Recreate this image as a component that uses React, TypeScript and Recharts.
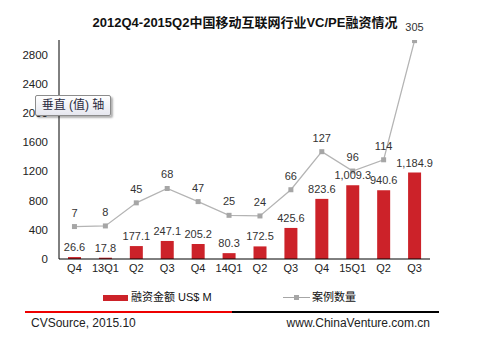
import { ComposedChart, Bar, Line, XAxis, YAxis, LabelList } from 'recharts';

// 2012Q4-2015Q3 中国移动互联网 VC/PE 融资
const quarters = ['Q4', '13Q1', 'Q2', 'Q3', 'Q4', '14Q1', 'Q2', 'Q3', 'Q4', '15Q1', 'Q2', 'Q3'];
const amounts = [26.6, 17.8, 177.1, 247.1, 205.2, 80.3, 172.5, 425.6, 823.6, 1009.3, 940.6, 1184.9];
const deals = [7, 8, 45, 68, 47, 25, 24, 66, 127, 96, 114, 305];
const amountTicks = [0, 400, 800, 1200, 1600, 2000, 2400, 2800];

const data = quarters.map((q, i) => ({ q, amount: amounts[i], deals: deals[i] }));

const FONT = "Arial, 'Liberation Sans', 'Noto Sans CJK SC', sans-serif";
const RED = '#cc2229';
const GREY = '#a6a6a6';

const fmtAmount = (v: any) =>
  Number(v).toLocaleString('en-US', { minimumFractionDigits: 1, maximumFractionDigits: 1 });

const SquareDot = (props: any) => {
  const { cx, cy } = props;
  if (cx == null || cy == null) return null;
  return <rect x={cx - 2.5} y={cy - 2.5} width={5} height={5} fill={GREY} />;
};

export default function App() {
  return (
    <div
      style={{
        position: 'fixed',
        left: 0,
        top: 0,
        width: 478,
        height: 355,
        background: '#fff',
        fontFamily: FONT,
      }}
    >
      <div
        style={{
          position: 'absolute',
          top: 12,
          left: 0,
          width: 490,
          textAlign: 'center',
          fontSize: 13,
          fontWeight: 'bold',
          color: '#111',
        }}
      >
        2012Q4-2015Q2中国移动互联网行业VC/PE融资情况
      </div>

      <ComposedChart
        width={478}
        height={355}
        data={data}
        margin={{ top: 40, right: 48, left: 0, bottom: 76 }}
        style={{ fontFamily: FONT }}
      >
        <XAxis
          dataKey="q"
          height={20}
          tickLine={false}
          tickSize={4}
          tickMargin={1}
          axisLine={{ stroke: '#000' }}
          tick={{ fontSize: 11, fill: '#222' }}
          interval={0}
        />
        <YAxis
          yAxisId="left"
          width={59}
          domain={[0, 3000]}
          ticks={amountTicks}
          tickLine={false}
          tickMargin={5}
          axisLine={{ stroke: '#000' }}
          tick={{ fontSize: 11.5, fill: '#222' }}
        />
        <YAxis yAxisId="right" orientation="right" hide domain={[-45, 306]} allowDataOverflow />
        <Bar yAxisId="left" dataKey="amount" fill={RED} barSize={13} isAnimationActive={false}>
          <LabelList
            dataKey="amount"
            position="top"
            offset={6}
            formatter={fmtAmount}
            style={{ fontSize: 11, fill: '#333' }}
          />
        </Bar>
        <Line
          yAxisId="right"
          dataKey="deals"
          stroke="#b4b4b4"
          strokeWidth={1.3}
          dot={<SquareDot />}
          activeDot={false}
          isAnimationActive={false}
        >
          <LabelList dataKey="deals" position="top" offset={10} style={{ fontSize: 11, fill: '#333' }} />
        </Line>
      </ComposedChart>

      {/* legend */}
      <div style={{ position: 'absolute', left: 103, top: 295, width: 25, height: 6, background: RED }} />
      <div style={{ position: 'absolute', left: 131, top: 289, fontSize: 11, color: '#111', lineHeight: '16px' }}>
        融资金额 US$ M
      </div>
      <div style={{ position: 'absolute', left: 283, top: 297, width: 27, height: 1, background: GREY }} />
      <div style={{ position: 'absolute', left: 294, top: 295, width: 5, height: 5, background: GREY }} />
      <div style={{ position: 'absolute', left: 312, top: 289, fontSize: 11, color: '#111', lineHeight: '16px' }}>
        案例数量
      </div>

      {/* footer */}
      <div style={{ position: 'absolute', left: 25, top: 311, width: 207, height: 2, background: '#e00' }} />
      <div style={{ position: 'absolute', left: 232, top: 311, width: 207, height: 2, background: '#000' }} />
      <div style={{ position: 'absolute', left: 31, top: 315, fontSize: 12, color: '#222', lineHeight: '16px' }}>
        CVSource, 2015.10
      </div>
      <div
        style={{
          position: 'absolute',
          right: 48,
          top: 315,
          fontSize: 12,
          color: '#222',
          lineHeight: '16px',
        }}
      >
        www.ChinaVenture.com.cn
      </div>

      {/* axis tooltip */}
      <div
        style={{
          position: 'absolute',
          left: 35,
          top: 95,
          width: 74,
          height: 19,
          border: '1px solid #8c8c8c',
          borderRadius: 2,
          background: 'linear-gradient(#ffffff, #e6e7ef)',
          boxShadow: '2px 2px 2px rgba(0,0,0,0.3)',
          fontSize: 12,
          lineHeight: '19px',
          color: '#2b2b40',
          textAlign: 'center',
        }}
      >
        垂直 (值) 轴
      </div>
    </div>
  );
}
